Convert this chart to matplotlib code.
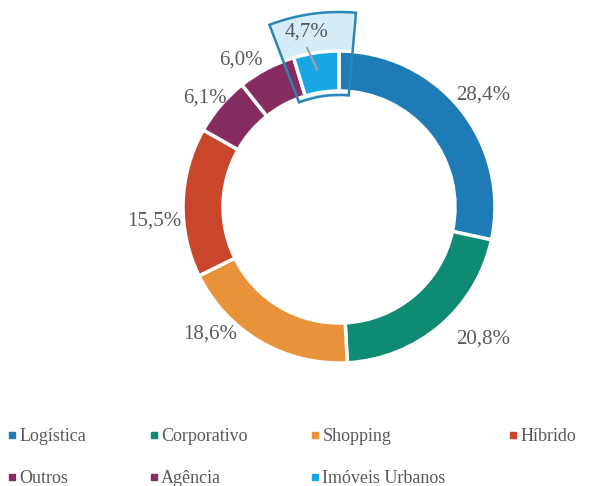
import numpy as np
import matplotlib.pyplot as plt
from matplotlib.patches import Wedge
from matplotlib.lines import Line2D

plt.rcParams['font.family'] = ['Liberation Serif', 'DejaVu Serif']

categories = ['Logística', 'Corporativo', 'Shopping', 'Híbrido',
              'Outros', 'Agência', 'Imóveis Urbanos']
shares = [28.4, 20.8, 18.6, 15.5, 6.1, 6.0, 4.7]
colors = ['#1f7bb6', '#0f8b73', '#e8923a', '#c8462a',
          '#862c60', '#862c60', '#18a7e4']
pct_labels = [f'{v:.1f}%'.replace('.', ',') for v in shares]

# label placement: radius factor and angular nudge (degrees) from slice middle
label_r = [1.17, 1.25, 1.16, 1.19, 1.11, 1.13, 1.14]
label_nudge = [-1, 7, -15, 6, 1.5, 6, 2]
highlight = 6  # Imóveis Urbanos

W, H = 601, 486
txt_color = '#595959'

fig = plt.figure(figsize=(W / 100, H / 100), dpi=100)
ax = fig.add_axes([0, 0, 1, 1])

cx, cy, R, ring = 339, H - 207, 156, 40
wedges, _ = ax.pie(shares, colors=colors, startangle=90, counterclock=False,
                   center=(cx, cy), radius=R,
                   wedgeprops=dict(width=ring, edgecolor='white', linewidth=2.5))

# percentage labels
total = sum(shares)
cum = np.cumsum([0] + shares[:-1])
for i, (v, lab) in enumerate(zip(shares, pct_labels)):
    mid = 90 - (cum[i] + v / 2) / total * 360 + label_nudge[i]
    a = np.deg2rad(mid)
    r = label_r[i] * R
    ax.text(cx + r * np.cos(a), cy + r * np.sin(a), lab, ha='center', va='center',
            fontsize=15, color=txt_color, zorder=5)
    if i == highlight:
        r1, r2 = 1.04 * R, 0.89 * R
        a1, a2 = a + 0.015, a - 0.025
        ax.plot([cx + r1 * np.cos(a1), cx + r2 * np.cos(a2)],
                [cy + r1 * np.sin(a1), cy + r2 * np.sin(a2)],
                color='#a3a3a3', lw=1.5, zorder=4)

# highlight box around the smallest slice
t1 = 90 - (cum[highlight] + shares[highlight]) / total * 360
t2 = 90 - cum[highlight] / total * 360
ax.add_patch(Wedge((cx, cy), 195, t1 - 5, t2 + 4, width=83,
                   facecolor='#d6edf9', edgecolor='none', zorder=0.5))
ax.add_patch(Wedge((cx, cy), 195, t1 - 5, t2 + 4, width=83,
                   fill=False, edgecolor='#2a86b4', lw=1.8, zorder=3))

ax.set_xlim(0, W)
ax.set_ylim(0, H)
ax.axis('off')

# legend, row-major order
order = [0, 4, 1, 5, 2, 6, 3]
handles = [Line2D([], [], marker='s', linestyle='', markersize=5, color=colors[i])
           for i in order]
fig.legend(handles, [categories[i] for i in order], ncol=4, loc='lower left',
           bbox_to_anchor=(0.0095, -0.006), frameon=False, fontsize=13,
           handlelength=0.5, handletextpad=0.15, columnspacing=3.5,
           labelspacing=1.4, borderpad=0.1, borderaxespad=0, labelcolor=txt_color)

fig.savefig('out.png', dpi=100)
